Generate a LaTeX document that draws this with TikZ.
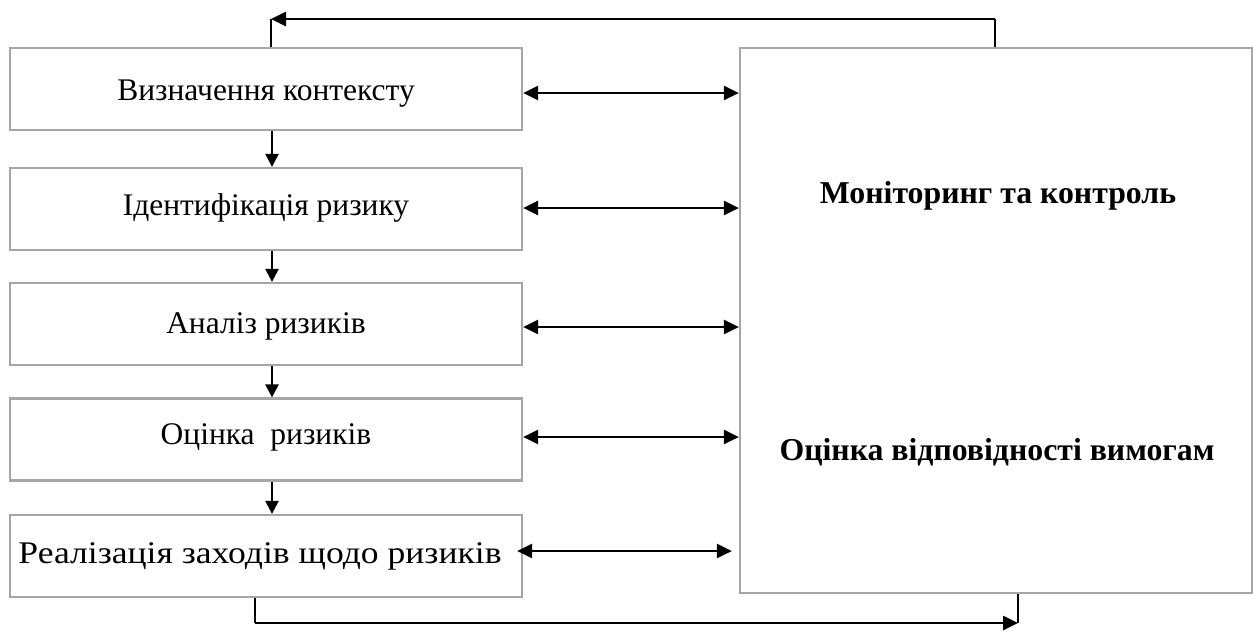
\documentclass[tikz,border=0pt]{standalone}
\usepackage{fontspec}
\setmainfont{Liberation Serif}
\usetikzlibrary{arrows.meta}
\definecolor{boxgray}{RGB}{166,166,166}
\begin{document}
\begin{tikzpicture}[x=1pt,y=-1pt,
  stage/.style={draw=boxgray, line width=2.2pt, minimum width=512pt, minimum height=82pt, inner sep=0pt, text depth=0pt, font=\fontsize{31.5}{36}\selectfont},
  bigbox/.style={draw=boxgray, line width=2.2pt, minimum width=512pt, minimum height=545pt, inner sep=0pt},
  boldtext/.style={font=\fontsize{31.8}{36}\selectfont\bfseries, inner sep=0pt},
  biarrow/.style={{Triangle[length=15pt,width=14pt]}-{Triangle[length=15pt,width=14pt]}, line width=2.6pt},
  downarrow/.style={-{Triangle[length=13pt,width=13pt]}, line width=2.2pt},
  looparrow/.style={-{Triangle[length=15pt,width=14pt]}, line width=2.6pt},
  thinline/.style={line width=1.4pt}
]
\useasboundingbox (0,0) rectangle (1253,630);

\node[stage, text height=22pt] (b1) at (266,89) {Визначення контексту};
\node[stage, text height=12pt] (b2) at (266,209) {Ідентифікація ризику};
\node[stage, text height=18pt] (b3) at (266,324) {Аналіз ризиків};
\node[stage, text height=9pt] (b4) at (266,439.5) {Оцінка\ \ ризиків};
\node[stage, text height=14pt] (b5) at (266,556) {\hspace*{-12pt}\scalebox{1.13}[1]{Реалізація заходів щодо ризиків}};

\node[bigbox] (mon) at (996,320.5) {};
\node[boldtext] (mt) at (998,196) {Моніторинг та контроль};
\node[boldtext] (oc) at (997,452) {Оцінка відповідності вимогам};

% down arrows
\draw[downarrow] ([xshift=6pt]b1.south) -- ([xshift=6pt]b2.north);
\draw[downarrow] ([xshift=6pt]b2.south) -- ([xshift=6pt]b3.north);
\draw[downarrow] ([xshift=6pt]b3.south) -- ([xshift=6pt]b4.north);
\draw[downarrow] ([xshift=6pt]b4.south) -- ([xshift=6pt]b5.north);

% bidirectional arrows
\path ([yshift=-4pt]b1.east) coordinate (l1);
\path ([yshift=1pt]b2.east) coordinate (l2);
\path ([yshift=-3pt]b3.east) coordinate (l3);
\path ([yshift=2.5pt]b4.east) coordinate (l4);
\path ([yshift=5pt]b5.east) coordinate (l5);
\draw[biarrow] (l1) -- (l1 -| mon.west);
\draw[biarrow] (l2) -- (l2 -| mon.west);
\draw[biarrow] (l3) -- (l3 -| mon.west);
\draw[biarrow] (l4) -- (l4 -| mon.west);
\draw[biarrow, shorten <=-6pt, shorten >=7pt] (l5) -- (l5 -| mon.west);

% top feedback loop
\coordinate (tr) at (995,19);
\coordinate (tl) at (271,19);
\draw[thinline] (mon.north -| tr) -- (tr);
\draw[looparrow] (tr) -- (tl);
\draw[thinline] (tl) -- (b1.north -| tl);

% bottom loop
\coordinate (bl) at (255,623);
\coordinate (br) at (1018,623);
\draw[thinline] (b5.south -| bl) -- (bl);
\draw[looparrow] (bl) -- (br);
\draw[thinline] (br) -- (mon.south -| br);
\end{tikzpicture}
\end{document}
